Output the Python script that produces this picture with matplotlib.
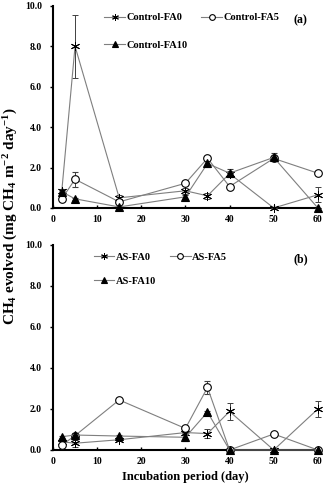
import numpy as np
import matplotlib
matplotlib.use("Agg")
import matplotlib.pyplot as plt
from matplotlib.lines import Line2D

plt.rcParams['font.family'] = ['Liberation Serif', 'DejaVu Serif']
plt.rcParams['font.weight'] = 'bold'
plt.rcParams['mathtext.default'] = 'regular'

days = [2, 5, 15, 30, 35, 40, 50, 60]

# panel (a): control soils
ctrl_fa0 = [0.85, 8.0, 0.5, 0.85, 0.6, 1.7, 0.0, 0.65]
ctrl_fa0_err = [0.1, 1.55, 0.15, 0.15, 0.15, 0.15, 0.0, 0.38]
ctrl_fa5 = [0.45, 1.42, 0.3, 1.22, 2.46, 1.06, 2.45, 1.72]
ctrl_fa5_err = [0.1, 0.38, 0.1, 0.1, 0.1, 0.05, 0.1, 0.05]
ctrl_fa10 = [0.8, 0.45, 0.05, 0.55, 2.2, 1.72, 2.5, 0.0]
ctrl_fa10_err = [0.05, 0.05, 0.05, 0.1, 0.15, 0.2, 0.2, 0.0]

# panel (b): AS soils
as_fa0 = [0.4, 0.33, 0.5, 0.85, 0.8, 1.88, 0.0, 2.0]
as_fa0_err = [0.05, 0.18, 0.05, 0.1, 0.2, 0.42, 0.0, 0.38]
as_fa5 = [0.24, 0.7, 2.44, 1.05, 3.05, 0.0, 0.78, 0.0]
as_fa5_err = [0.05, 0.1, 0.05, 0.1, 0.3, 0.0, 0.08, 0.0]
as_fa10 = [0.65, 0.73, 0.68, 0.62, 1.85, 0.0, 0.0, 0.0]
as_fa10_err = [0.05, 0.1, 0.05, 0.2, 0.05, 0.0, 0.0, 0.0]

xticks = [0, 10, 20, 30, 40, 50, 60]
yticks = [0, 2, 4, 6, 8, 10]

star = (6, 2, 0)
styles = [dict(marker=star, ms=6.5, mfc='black', mec='black', mew=0.7),
          dict(marker='o', ms=5.5, mfc='white', mec='black', mew=0.8),
          dict(marker='^', ms=5.5, mfc='black', mec='black', mew=0.8)]

fig = plt.figure(figsize=(3.25, 4.87), dpi=100)
ax1 = fig.add_axes([0.163, 0.573, 0.815, 0.415])
ax2 = fig.add_axes([0.163, 0.076, 0.815, 0.421])

panels = [
    (ax1, [ctrl_fa0, ctrl_fa5, ctrl_fa10], [ctrl_fa0_err, ctrl_fa5_err, ctrl_fa10_err],
     ['Control-FA0', 'Control-FA5', 'Control-FA10'], '(a)', 0.17, 1.75),
    (ax2, [as_fa0, as_fa5, as_fa10], [as_fa0_err, as_fa5_err, as_fa10_err],
     ['AS-FA0', 'AS-FA5', 'AS-FA10'], '(b)', 0.13, 1.45),
]

for ax, series, errs, labels, tag, lx, lsp in panels:
    handles = []
    for vals, err, lab, st in zip(series, errs, labels, styles):
        ax.errorbar(days, vals, yerr=err, color='#7f7f7f', lw=0.8,
                    ecolor='#404040', elinewidth=0.7, capsize=2, capthick=0.7,
                    clip_on=False, zorder=3, **st)
        small = dict(st)
        small['ms'] = st['ms'] * 0.75
        handles.append(Line2D([], [], color='#7f7f7f', lw=0.8, label=lab, **small))
    ax.set_xlim(0, 60)
    ax.set_ylim(0, 10)
    ax.set_xticks(xticks)
    ax.set_yticks(yticks)
    ax.set_yticklabels(['%.1f' % v for v in yticks])
    ax.tick_params(axis='both', labelsize=7, length=2, width=1)
    ax.tick_params(axis='x', direction='in', pad=5)
    ax.tick_params(axis='y', direction='out', pad=6)
    for s in ['top', 'right']:
        ax.spines[s].set_visible(False)
    for s in ['left', 'bottom']:
        ax.spines[s].set_linewidth(1.5)
    for lbl in ax.get_xticklabels() + ax.get_yticklabels():
        lbl.set_fontweight('bold')
    # column-major fill: FA0, FA10 | FA5 -> rows: FA0 FA5 / FA10
    order = [handles[0], handles[2], handles[1]]
    ax.legend(handles=order, loc='upper left', bbox_to_anchor=(lx, 0.995), ncol=2,
              frameon=False, handlelength=2.0, handletextpad=0.15, columnspacing=1.3,
              labelspacing=lsp, borderaxespad=0.2,
              prop={'weight': 'bold', 'size': 7.5})
    ax.text(0.935, 0.93, tag, transform=ax.transAxes, fontsize=8.5, fontweight='bold',
            ha='center', va='center')

ax2.set_xlabel('Incubation period (day)', fontsize=9, fontweight='bold', labelpad=4)
fig.text(0.035, 0.555, 'CH$_4$ evolved (mg CH$_4$ m$^{-2}$ day$^{-1}$)', rotation=90,
         ha='center', va='center', fontsize=11, fontweight='bold')

fig.savefig('out.png', dpi=100)
